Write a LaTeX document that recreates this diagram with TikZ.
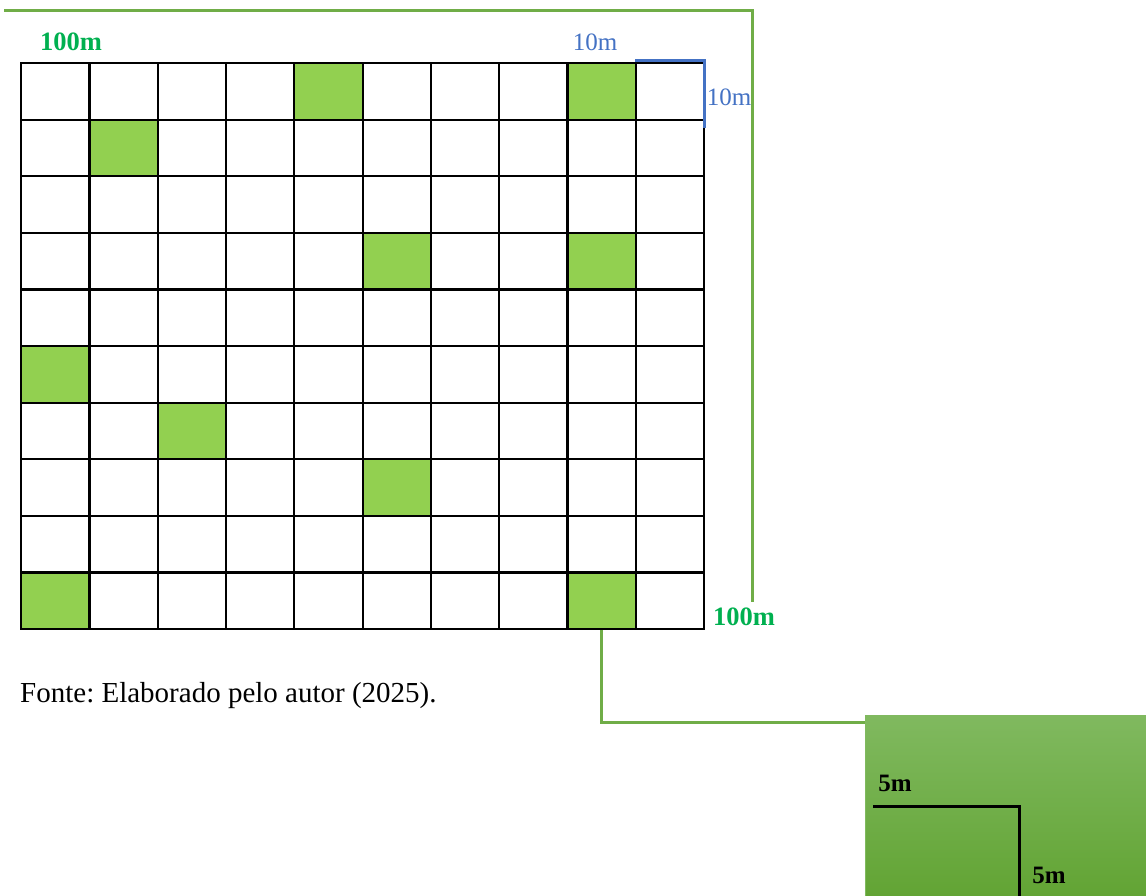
\documentclass[tikz,border=0pt]{standalone}
\usepackage{fontspec}
\setmainfont{Liberation Serif}
\frenchspacing
\begin{document}
\begin{tikzpicture}[x=1pt,y=-1pt,
  cell/.style={draw=black,line width=2.2pt,minimum width=68.3pt,minimum height=56.6pt,inner sep=0pt,anchor=north west},
  filled/.style={fill=cellgreen},
  frameline/.style={draw=framegreen,line width=3pt},
  bluebr/.style={draw=bracketblue,line width=3pt},
  glab/.style={text=labelgreen,font=\fontsize{26.5}{30}\selectfont\bfseries,inner sep=0pt},
  blab/.style={text=bracketblue,font=\fontsize{25}{30}\selectfont,inner sep=0pt},
  klab/.style={text=black,font=\fontsize{25}{30}\selectfont\bfseries,inner sep=0pt}]
\definecolor{cellgreen}{HTML}{92D050}
\definecolor{framegreen}{HTML}{70AD47}
\definecolor{labelgreen}{HTML}{00B050}
\definecolor{bracketblue}{HTML}{4472C4}
\definecolor{boxtop}{RGB}{128,185,95}
\definecolor{boxbot}{RGB}{98,164,52}
\useasboundingbox (0,0) rectangle (1146,896);
\fill[white] (0,0) rectangle (1146,896);
% grid
\foreach \r in {0,...,9}{
  \foreach \c in {0,...,9}{
    \node[cell] (c-\r-\c) at ({20+68.3*\c},{62+56.6*\r}) {};
  }
}
\foreach \r/\c in {0/4,0/8,1/1,3/5,3/8,5/0,6/2,7/5,9/0,9/8}{
  \node[cell,filled] at ({20+68.3*\c},{62+56.6*\r}) {};
}
% outer green frame
\coordinate (f0) at (4,11);
\coordinate (f1) at (752,11);
\coordinate (f2) at (752,602);
\draw[frameline] (f0) -- (f1) -- (f2);
\node[glab] (l100a) at (71,42) {100m};
\node[glab] (l100b) at (744,617) {100m};
% blue bracket
\coordinate (b0) at (635,61);
\coordinate (b1) at (704,61);
\coordinate (b2) at (704,128);
\draw[bluebr] (b0) -- (b1) -- (b2);
\node[blab] (l10a) at (595,42) {10m};
\node[blab] (l10b) at (729,97) {10m};
% caption
\node[anchor=west,inner sep=0pt,font=\fontsize{29}{34}\selectfont] (cap) at (20,696) {Fonte: Elaborado pelo autor (2025).};
% zoom box
\node[draw=boxtop,line width=1pt,top color=boxtop,bottom color=boxbot,minimum width=281pt,minimum height=181pt,inner sep=0pt,anchor=north west] (zoom) at (865,715) {};
\path (zoom.north west) ++(0,7) coordinate (z1);
\draw[frameline] (c-9-8.south) |- (z1);
\coordinate (k0) at (873,806);
\coordinate (k1) at (1019,806);
\coordinate (k2) at (1019,896);
\draw[line width=3pt] (k0) -- (k1) -- (k2);
\node[klab] (l5a) at (895,783) {5m};
\node[klab] (l5b) at (1049,875) {5m};
\end{tikzpicture}
\end{document}
